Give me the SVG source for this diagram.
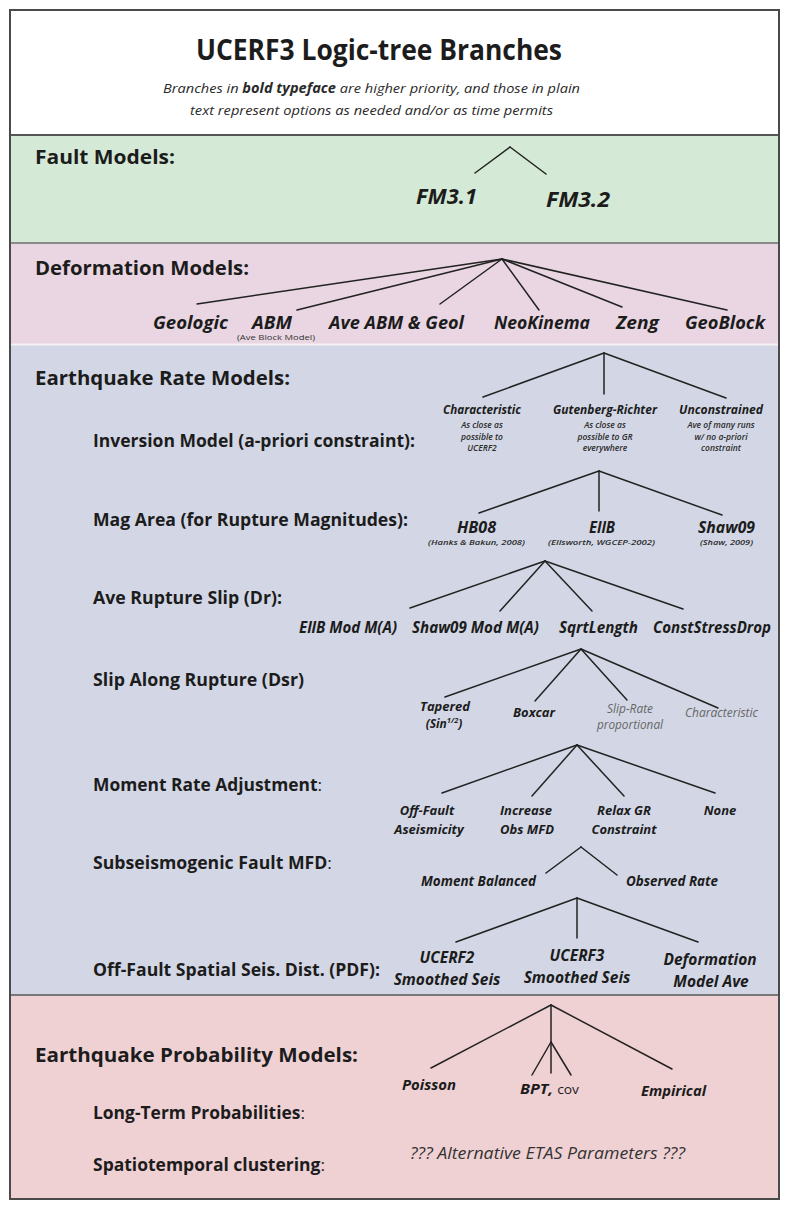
<svg xmlns="http://www.w3.org/2000/svg" width="785" height="1207" viewBox="0 0 785 1207">
<style>
text{font-family:"Open Sans","Liberation Sans",sans-serif;fill:#1c1c1c}
.title{font-size:28px;font-weight:700}
.sub{font-size:13.5px;font-style:italic;fill:#2a2a2a}
.sec{font-size:20px;font-weight:700}
.lab{font-size:17px;font-weight:700}
.lt{font-weight:400}
.b{font-weight:700;font-style:italic}
.b21{font-size:21px}
.b18{font-size:18px}
.b16{font-size:16px}
.b15{font-size:15.5px}
.b14{font-size:14px}
.b13{font-size:13px}
.b12{font-size:12px}
.note{font-size:8.5px;font-style:italic;font-weight:600;text-anchor:middle;fill:#2a2a2a}
.ref{font-size:7.5px;font-style:italic;font-weight:600;fill:#2a2a2a}
.tiny{font-size:7px;fill:#333}
.opt{font-size:12px;font-style:italic;fill:#666}
.mid{text-anchor:middle}
.etas{font-size:15.5px;font-style:italic;fill:#333}
.conn line{stroke:#222;stroke-width:1.5;stroke-linecap:round}
</style>
<g id="background">
<rect x="10" y="10" width="769" height="125" fill="#ffffff"/>
<rect x="10" y="135" width="769" height="108" fill="#d5ead6"/>
<rect x="10" y="243" width="769" height="101" fill="#e9d6e2"/>
<rect x="10" y="344" width="769" height="651" fill="#d3d7e5"/>
<rect x="10" y="995" width="769" height="204" fill="#efd1d4"/>
<line x1="10" y1="135" x2="779" y2="135" stroke="#555" stroke-width="2"/>
<line x1="10" y1="243" x2="779" y2="243" stroke="#8a8a8a" stroke-width="2"/>
<line x1="10" y1="344.5" x2="779" y2="344.5" stroke="#f4f0f4" stroke-width="2"/>
<line x1="10" y1="995" x2="779" y2="995" stroke="#777" stroke-width="2"/>
<rect x="10" y="10" width="769" height="1189" fill="none" stroke="#4a4a4a" stroke-width="2"/>
</g>
<g id="header">
<text class="title" x="196" y="60" textLength="366" lengthAdjust="spacingAndGlyphs">UCERF3 Logic-tree Branches</text>
<text class="sub" x="163" y="93" textLength="417" lengthAdjust="spacingAndGlyphs">Branches in <tspan font-weight="700">bold typeface</tspan> are higher priority, and those in plain</text>
<text class="sub" x="190" y="115" textLength="363" lengthAdjust="spacingAndGlyphs">text represent options as needed and/or as time permits</text>
</g>
<g id="section-labels">
<text id="lbl-fault" class="sec" x="35" y="164" textLength="140" lengthAdjust="spacingAndGlyphs">Fault Models:</text>
<text id="lbl-def" class="sec" x="35" y="275" textLength="214" lengthAdjust="spacingAndGlyphs">Deformation Models:</text>
<text id="lbl-rate" class="sec" x="35" y="385" textLength="255" lengthAdjust="spacingAndGlyphs">Earthquake Rate Models:</text>
<text id="lbl-inv" class="lab" x="93" y="447" textLength="322" lengthAdjust="spacingAndGlyphs">Inversion Model (a-priori constraint):</text>
<text id="lbl-mag" class="lab" x="93" y="526" textLength="315" lengthAdjust="spacingAndGlyphs">Mag Area (for Rupture Magnitudes):</text>
<text id="lbl-ave" class="lab" x="93" y="604" textLength="189" lengthAdjust="spacingAndGlyphs">Ave Rupture Slip (Dr):</text>
<text id="lbl-slip" class="lab" x="93" y="686" textLength="211" lengthAdjust="spacingAndGlyphs">Slip Along Rupture (Dsr)</text>
<text id="lbl-mom" class="lab" x="93" y="791" textLength="229" lengthAdjust="spacingAndGlyphs">Moment Rate Adjustment<tspan class="lt">:</tspan></text>
<text id="lbl-subs" class="lab" x="93" y="869" textLength="239" lengthAdjust="spacingAndGlyphs">Subseismogenic Fault MFD<tspan class="lt">:</tspan></text>
<text id="lbl-off" class="lab" x="93" y="976" textLength="287" lengthAdjust="spacingAndGlyphs">Off-Fault Spatial Seis. Dist. (PDF):</text>
<text id="lbl-prob" class="sec" x="35" y="1062" textLength="323" lengthAdjust="spacingAndGlyphs">Earthquake Probability Models:</text>
<text id="lbl-lt" class="lab" x="93" y="1119" textLength="212" lengthAdjust="spacingAndGlyphs">Long-Term Probabilities<tspan class="lt">:</tspan></text>
<text id="lbl-st" class="lab" x="93" y="1171" textLength="232" lengthAdjust="spacingAndGlyphs">Spatiotemporal clustering<tspan class="lt">:</tspan></text>
</g>
<g id="connectors" class="conn">
<line x1="510" y1="147" x2="475" y2="173"/>
<line x1="510" y1="147" x2="546" y2="174"/>
<line x1="502" y1="259" x2="197" y2="304"/>
<line x1="502" y1="259" x2="297" y2="310"/>
<line x1="502" y1="259" x2="440" y2="304"/>
<line x1="502" y1="259" x2="539" y2="310"/>
<line x1="502" y1="259" x2="622" y2="307"/>
<line x1="502" y1="259" x2="727" y2="310"/>
<line x1="604" y1="353" x2="483" y2="397"/>
<line x1="604" y1="353" x2="604" y2="394"/>
<line x1="604" y1="353" x2="726" y2="398"/>
<line x1="599" y1="471" x2="479" y2="513"/>
<line x1="599" y1="471" x2="599" y2="511"/>
<line x1="599" y1="471" x2="722" y2="515"/>
<line x1="545" y1="561" x2="410" y2="608"/>
<line x1="545" y1="561" x2="500" y2="611"/>
<line x1="545" y1="561" x2="592" y2="611"/>
<line x1="545" y1="561" x2="683" y2="609"/>
<line x1="581" y1="649" x2="445" y2="697"/>
<line x1="581" y1="649" x2="535" y2="701"/>
<line x1="581" y1="649" x2="627" y2="700"/>
<line x1="581" y1="649" x2="718" y2="708"/>
<line x1="577" y1="745" x2="442" y2="793"/>
<line x1="577" y1="745" x2="532" y2="796"/>
<line x1="577" y1="745" x2="624" y2="796"/>
<line x1="577" y1="745" x2="715" y2="793"/>
<line x1="581" y1="847" x2="546" y2="873"/>
<line x1="581" y1="847" x2="617" y2="875"/>
<line x1="577" y1="898" x2="456" y2="942"/>
<line x1="577" y1="898" x2="577" y2="938"/>
<line x1="577" y1="898" x2="698" y2="942"/>
<line x1="551" y1="1005" x2="431" y2="1068"/>
<line x1="551" y1="1005" x2="551" y2="1073"/>
<line x1="551" y1="1042" x2="532" y2="1075"/>
<line x1="551" y1="1042" x2="571" y2="1075"/>
<line x1="551" y1="1005" x2="672" y2="1069"/>
</g>
<g id="fm31"><text class="b b21" x="416" y="204" textLength="61" lengthAdjust="spacingAndGlyphs">FM3.1</text></g>
<g id="fm32"><text class="b b21" x="546" y="207" textLength="64" lengthAdjust="spacingAndGlyphs">FM3.2</text></g>
<g id="dm-geologic"><text class="b b18" x="153" y="329" textLength="75" lengthAdjust="spacingAndGlyphs">Geologic</text></g>
<g id="dm-abm"><text class="b b18" x="252" y="329" textLength="40" lengthAdjust="spacingAndGlyphs">ABM</text>
<text class="tiny" x="237" y="340" textLength="78" lengthAdjust="spacingAndGlyphs">(Ave Block Model)</text></g>
<g id="dm-aveabm"><text class="b b18" x="329" y="329" textLength="135" lengthAdjust="spacingAndGlyphs">Ave ABM &amp; Geol</text></g>
<g id="dm-neokinema"><text class="b b18" x="494" y="329" textLength="96" lengthAdjust="spacingAndGlyphs">NeoKinema</text></g>
<g id="dm-zeng"><text class="b b18" x="616" y="329" textLength="43" lengthAdjust="spacingAndGlyphs">Zeng</text></g>
<g id="dm-geoblock"><text class="b b18" x="685" y="329" textLength="80" lengthAdjust="spacingAndGlyphs">GeoBlock</text></g>
<g id="inv-char"><text class="b b12" x="443" y="414" textLength="78" lengthAdjust="spacingAndGlyphs">Characteristic</text>
<text class="note" x="482" y="428">As close as</text><text class="note" x="482" y="440">possible to</text><text class="note" x="482" y="451">UCERF2</text></g>
<g id="inv-gr"><text class="b b12" x="553" y="414" textLength="104" lengthAdjust="spacingAndGlyphs">Gutenberg-Richter</text>
<text class="note" x="605" y="428">As close as</text><text class="note" x="605" y="440">possible to GR</text><text class="note" x="605" y="451">everywhere</text></g>
<g id="inv-unc"><text class="b b12" x="679" y="414" textLength="84" lengthAdjust="spacingAndGlyphs">Unconstrained</text>
<text class="note" x="721" y="428">Ave of many runs</text><text class="note" x="721" y="440">w/ no a-priori</text><text class="note" x="721" y="451">constraint</text></g>
<g id="ma-hb08"><text class="b b16" x="457" y="533" textLength="39" lengthAdjust="spacingAndGlyphs">HB08</text>
<text class="ref" x="428" y="545" textLength="97" lengthAdjust="spacingAndGlyphs">(Hanks &amp; Bakun, 2008)</text></g>
<g id="ma-ellb"><text class="b b16" x="589" y="533" textLength="26" lengthAdjust="spacingAndGlyphs">EllB</text>
<text class="ref" x="548" y="545" textLength="107" lengthAdjust="spacingAndGlyphs">(Ellsworth, WGCEP-2002)</text></g>
<g id="ma-shaw09"><text class="b b16" x="698" y="533" textLength="57" lengthAdjust="spacingAndGlyphs">Shaw09</text>
<text class="ref" x="700" y="545" textLength="53" lengthAdjust="spacingAndGlyphs">(Shaw, 2009)</text></g>
<g id="ars-ellb"><text class="b b15" x="299" y="633" textLength="98" lengthAdjust="spacingAndGlyphs">EllB Mod M(A)</text></g>
<g id="ars-shaw"><text class="b b15" x="412" y="633" textLength="127" lengthAdjust="spacingAndGlyphs">Shaw09 Mod M(A)</text></g>
<g id="ars-sqrt"><text class="b b15" x="559" y="633" textLength="79" lengthAdjust="spacingAndGlyphs">SqrtLength</text></g>
<g id="ars-csd"><text class="b b15" x="653" y="633" textLength="118" lengthAdjust="spacingAndGlyphs">ConstStressDrop</text></g>
<g id="sar-tapered"><text class="b b13" x="420" y="711" textLength="50" lengthAdjust="spacingAndGlyphs">Tapered</text>
<text class="b b12 mid" x="444" y="728">(Sin<tspan font-size="7.5" dy="-5">1/2</tspan><tspan dy="5">)</tspan></text></g>
<g id="sar-boxcar"><text class="b b13" x="513" y="717" textLength="42" lengthAdjust="spacingAndGlyphs">Boxcar</text></g>
<g id="sar-sliprate"><text class="opt" x="607" y="713" textLength="46" lengthAdjust="spacingAndGlyphs">Slip-Rate</text>
<text class="opt" x="597" y="729" textLength="66" lengthAdjust="spacingAndGlyphs">proportional</text></g>
<g id="sar-char"><text class="opt" x="685" y="717" textLength="73" lengthAdjust="spacingAndGlyphs">Characteristic</text></g>
<g id="mra-offfault"><text class="b b13 mid" x="427" y="815">Off-Fault</text><text class="b b13 mid" x="429" y="834">Aseismicity</text></g>
<g id="mra-increase"><text class="b b13 mid" x="526" y="815">Increase</text><text class="b b13 mid" x="527" y="834">Obs MFD</text></g>
<g id="mra-relax"><text class="b b13 mid" x="624" y="815">Relax GR</text><text class="b b13 mid" x="624" y="834">Constraint</text></g>
<g id="mra-none"><text class="b b13 mid" x="720" y="815">None</text></g>
<g id="sfm-moment"><text class="b b14" x="421" y="886" textLength="115" lengthAdjust="spacingAndGlyphs">Moment Balanced</text></g>
<g id="sfm-observed"><text class="b b14" x="626" y="886" textLength="92" lengthAdjust="spacingAndGlyphs">Observed Rate</text></g>
<g id="pdf-ucerf2"><text class="b b15 mid" x="447" y="963">UCERF2</text><text class="b b15 mid" x="447" y="985">Smoothed Seis</text></g>
<g id="pdf-ucerf3"><text class="b b15 mid" x="577" y="961">UCERF3</text><text class="b b15 mid" x="577" y="983">Smoothed Seis</text></g>
<g id="pdf-defave"><text class="b b15 mid" x="710" y="965">Deformation</text><text class="b b15 mid" x="711" y="987">Model Ave</text></g>
<g id="ltp-poisson"><text class="b b14" x="402" y="1090" textLength="54" lengthAdjust="spacingAndGlyphs">Poisson</text></g>
<g id="ltp-bpt"><text class="b b14" x="520" y="1094" textLength="59" lengthAdjust="spacingAndGlyphs">BPT, <tspan font-weight="400" font-style="normal" font-size="12">cov</tspan></text></g>
<g id="ltp-empirical"><text class="b b14" x="641" y="1096" textLength="65" lengthAdjust="spacingAndGlyphs">Empirical</text></g>
<g id="stc-etas"><text class="etas" x="410" y="1159" textLength="275" lengthAdjust="spacingAndGlyphs">??? Alternative ETAS Parameters ???</text></g>
</svg>
